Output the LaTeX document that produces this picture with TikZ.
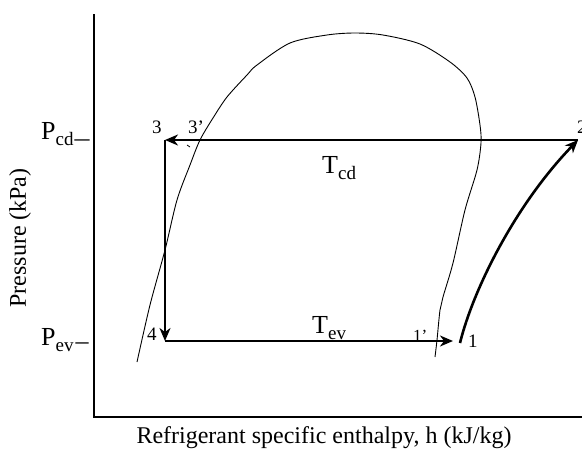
\documentclass[tikz,border=0pt]{standalone}
\usepackage{fontspec}
\setmainfont{Liberation Serif}
\usetikzlibrary{arrows.meta}

\newcommand{\lowsub}[2]{#1\raisebox{-6pt}{\fontsize{19}{19}\selectfont #2}}

\begin{document}
\begin{tikzpicture}[x=1pt,y=-1pt,
  axis/.style={line width=1.2pt},
  dome/.style={line width=0.9pt},
  flow/.style={line width=2.2pt,-{Stealth[length=13pt,width=11pt,inset=4pt]}},
  compress/.style={line width=2.6pt,-{Stealth[length=13pt,width=11pt,inset=4pt]}},
  big/.style={font=\fontsize{26}{26}\selectfont,inner sep=0pt},
  num/.style={font=\fontsize{19}{19}\selectfont,inner sep=0pt},
  title/.style={font=\fontsize{24}{24}\selectfont,inner sep=0pt}
]
\useasboundingbox (0,0) rectangle (582,461);

% axes
\coordinate (ytop) at (94,14);
\coordinate (xend) at (582,417);
\draw[axis] (ytop) |- (xend);

% saturation dome
\draw[dome] plot[smooth,tension=0.5] coordinates {
  (137,362) (150,305) (165,250) (177,200) (190,165) (200,140) (213,118)
  (227,97) (247,75) (257,65) (290,43) (327,35) (355,33) (383,35) (420,44)
  (450,62) (467,78) (475,97) (480,125) (481,143) (477,170) (465,210)
  (453,263) (443,297) (440,310) (437,340) (435,357)};

% cycle points
\coordinate (p3) at (165,140);
\coordinate (p2) at (578,140);
\coordinate (p4) at (165,341);
\coordinate (p1s) at (453,341);
\coordinate (p1) at (460,343);

\draw[flow] (p2) -- (p3);
\draw[flow] (p3) -- (p4);
\draw[flow] (p4) -- (p1s);
\draw[compress] (p1) .. controls (473,290) and (515,205) .. (p2);
\draw[line width=0.8pt] (187,145) -- (190,147);

% point labels
\node[num,anchor=base west] (l3) at (152,133) {3};
\node[num,anchor=base west] (l3s) at (188,133) {3’};
\node[num,anchor=base west] (l2) at (577,133) {2};
\node[num,anchor=base west] (l4) at (147,340) {4};
\node[num,anchor=base west,font=\fontsize{17}{17}\selectfont] (l1s) at (413,341) {1’};
\node[num,anchor=base west] (l1) at (468,347) {1};

% temperatures
\node[big,anchor=base west] (tcd) at (322,173) {\lowsub{T}{cd}};
\node[big,anchor=base west] (tev) at (312,333) {\lowsub{T}{ev}};

% pressures
\node[big,anchor=base west] (pcd) at (41,139) {\lowsub{P}{cd}\kern1pt\raisebox{-7pt}{\scalebox{1.15}[1]{–}}};
\node[big,anchor=base west] (pev) at (41,345) {\lowsub{P}{ev}\kern2pt\raisebox{-4pt}{–}};

% axis titles
\node[title,rotate=90] (ylab) at (20,238) {Pressure (kPa)};
\node[title,anchor=base] (xlab) at (324,443) {Refrigerant specific enthalpy, h (kJ/kg)};
\end{tikzpicture}
\end{document}
